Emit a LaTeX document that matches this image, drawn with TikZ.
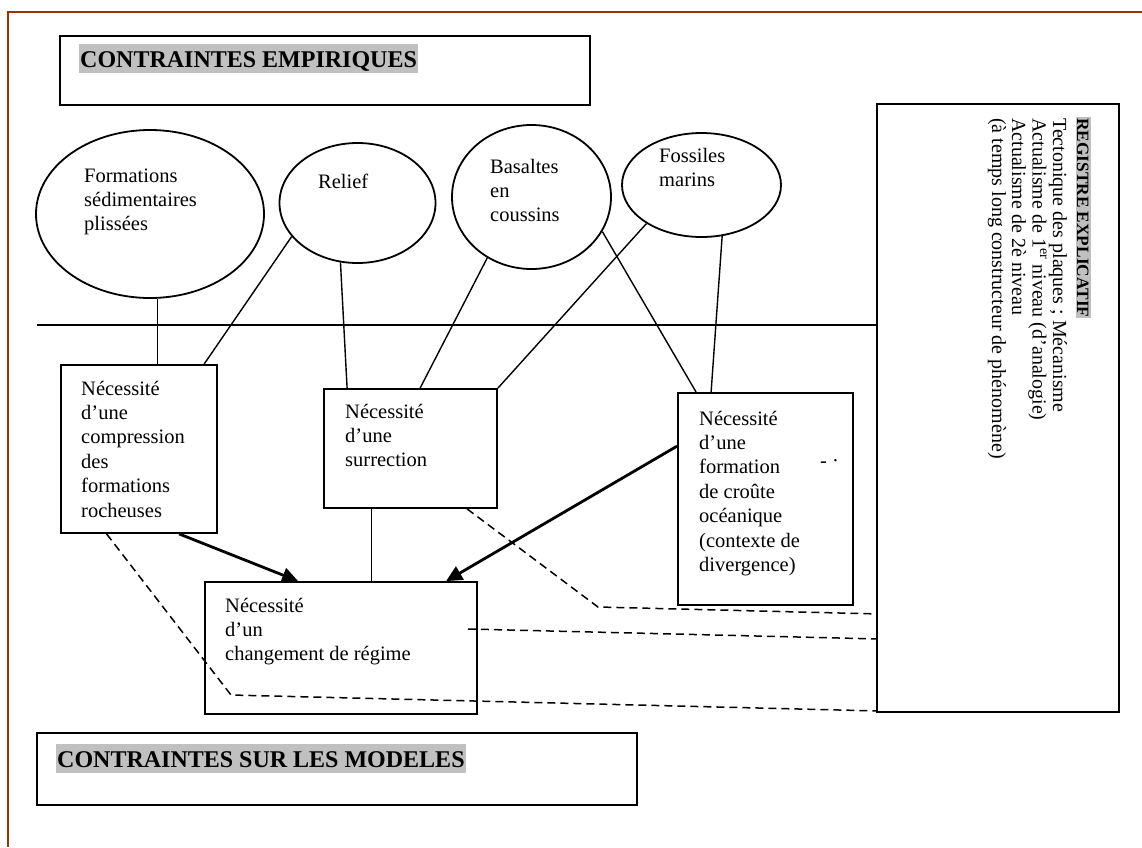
\documentclass[tikz,border=0pt]{standalone}
\usepackage{fontspec}
\setmainfont{Liberation Serif}
\usetikzlibrary{shapes.geometric,arrows.meta,calc}
\definecolor{framebrown}{RGB}{153,51,0}
\definecolor{hlgray}{RGB}{192,192,192}
\newcommand\bodyfont{\fontsize{20.5}{24.4}\selectfont}
\newcommand\rotfont{\fontsize{20}{24}\selectfont}
\newcommand\headfont{\fontsize{24}{28}\selectfont\bfseries}
\newcommand\rothead{\fontsize{17.3}{20}\selectfont\bfseries}
\newcommand\hlbox[3]{{\setlength\fboxsep{0pt}\colorbox{hlgray}{\rule[-#2]{0pt}{\dimexpr#1+#2\relax}\kern1pt#3\kern1pt}}}
\newcommand\stack[1]{\vtop{\halign{##\hfil\cr#1\crcr}}}
\tikzset{
  ell/.style={draw, ellipse, line width=1.8pt, inner sep=0pt},
  boxnode/.style={draw, rectangle, line width=1.8pt, inner sep=0pt},
  txt/.style={anchor=base west, inner sep=0pt, font=\bodyfont},
  rtxt/.style={anchor=base west, inner sep=0pt, rotate=-90, font=\rotfont},
  link/.style={line width=1.4pt},
  thickarrow/.style={line width=2.8pt, -{Triangle[length=16pt,width=15pt]}},
  dashlink/.style={line width=1.5pt, dash pattern=on 8pt off 5pt},
  frameline/.style={draw=framebrown, line width=2.6pt}
}
\begin{document}
\begin{tikzpicture}[x=1pt,y=-1pt]
\useasboundingbox (0,0) rectangle (1142,847);
% outer frame
\coordinate (fA) at (7,12);
\coordinate (fB) at (1142,12);
\coordinate (fC) at (8,847);
\draw[frameline] (fB) -- (fA |- fB) -- (fC |- fA) -- (fC);
% heading boxes
\node[boxnode, minimum width=530pt, minimum height=69pt] (top) at (325,70.5) {};
\node[txt, font=\headfont] (toptxt) at (79,67) {\hlbox{0.95em}{0.25em}{CONTRAINTES EMPIRIQUES}};
\node[boxnode, minimum width=600pt, minimum height=72pt] (bot) at (337,769) {};
\node[txt, font=\headfont] (bottxt) at (56,767) {\hlbox{0.95em}{0.25em}{CONTRAINTES SUR LES MODELES}};
% right box
\node[boxnode, minimum width=242pt, minimum height=608pt] (reg) at (998,408) {};
\node[rtxt, font=\rothead] (r0) at (1077,117) {\hlbox{0.8em}{0.08em}{REGISTRE EXPLICATIF}};
\node[rtxt] (r1) at (1053,118) {Tectonique des plaques ; Mécanisme};
\node[rtxt] (r2) at (1032.5,118) {Actualisme de 1\textsuperscript{er} niveau (d’analogie)};
\node[rtxt] (r3) at (1012,118) {Actualisme de 2è niveau};
\node[rtxt] (r4) at (992,118) {(à temps long constructeur de phénomène)};
% ellipses
\node[ell, minimum width=228pt, minimum height=168pt] (form) at (150,214) {};
\node[txt] (formt) at (84,182) {\stack{Formations\cr sédimentaires\cr plissées}};
\node[ell, minimum width=156pt, minimum height=120pt] (relief) at (357.5,203) {};
\node[txt] (relieft) at (318,188) {Relief};
\node[ell, minimum width=159pt, minimum height=144pt] (bas) at (531.5,197) {};
\node[txt] (bast) at (490,173) {\stack{Basaltes\cr en\cr coussins}};
\node[ell, minimum width=159pt, minimum height=104pt] (foss) at (701.5,185) {};
\node[txt] (fosst) at (659,162) {\stack{Fossiles\cr marins}};
% separating line
\coordinate (hl) at (37,325);
\draw[link] (hl) -- (hl -| reg.west);
% boxes
\node[boxnode, minimum width=156pt, minimum height=168pt] (cpr) at (139,449) {};
\node[txt] (cprt) at (81,395) {\stack{Nécessité\cr d’une\cr compression\cr des\cr formations\cr rocheuses}};
\node[boxnode, minimum width=173pt, minimum height=119pt] (sur) at (410.5,448.5) {};
\node[txt] (surt) at (345,418) {\stack{Nécessité\cr d’une\cr surrection}};
\node[boxnode, minimum width=175pt, minimum height=212pt] (crt) at (765.5,499) {};
\node[txt] (crtt) at (699,425) {\stack{Nécessité\cr d’une\cr formation\cr de croûte\cr océanique\cr (contexte de\cr divergence)}};
\node[txt] (dots) at (820,467) {-\hspace{5pt}·};
\node[boxnode, minimum width=272pt, minimum height=132pt] (chg) at (341,648) {};
\node[txt] (chgt) at (225,612) {\stack{Nécessité\cr d’un\cr changement de régime}};
% links from ellipses
\draw[link] (form.-85) -- (form.-85 |- cpr.north);
\draw[link] (relief.207) -- ($(cpr.north west)+(144,0)$);
\draw[link] (relief.254) -- ($(sur.north west)+(24,0)$);
\draw[link] (bas.234) -- ($(sur.north west)+(97,0)$);
\draw[link] (bas.334) -- ($(crt.north west)+(19,0)$);
\draw[link] (foss.215) -- (sur.north east);
\draw[link] (foss.292.5) -- ($(crt.north west)+(34,0)$);
% arrows to changement
\draw[thickarrow] ($(cpr.south west)+(119,0)$) -- ($(chg.north west)+(94,0)$);
\draw[thickarrow] ($(crt.north west)+(0,54)$) -- ($(chg.north west)+(242,0)$);
\coordinate (sb) at ($(sur.south west)+(48.5,0)$);
\draw[link] (sb) -- (sb |- chg.north);
% dashed links
\coordinate (d1) at (231,695);
\coordinate (d2) at (598,607);
\coordinate (d3) at (468,629);
\draw[dashlink] ($(cpr.south west)+(46.5,0)$) -- (d1) -- ($(reg.south west)+(0,-2)$);
\draw[dashlink] ($(sur.south west)+(144,0)$) -- (d2) -- ($(reg.south west)+(0,-99)$);
\draw[dashlink] (d3) -- ($(reg.south west)+(0,-74)$);
\end{tikzpicture}
\end{document}
